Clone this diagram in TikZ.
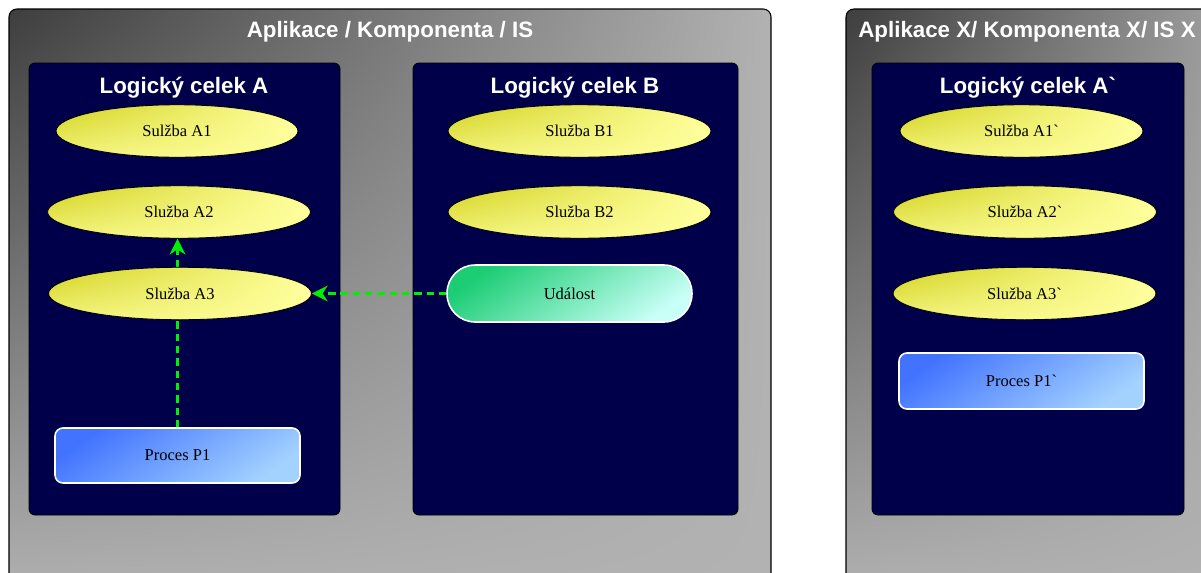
\documentclass[tikz,border=0pt]{standalone}
\usepackage{fontspec}
\setmainfont{Liberation Serif}[Ligatures=TeXOff]
\newfontfamily\nadpisfont{Liberation Sans}[Ligatures=TeXOff]
\usetikzlibrary{arrows.meta,
	backgrounds,
	shadings,
	shapes}
\pgfdeclarelayer{hrany}
\pgfsetlayers{background,hrany,main}

\definecolor{tmava}{HTML}{00004A}
\definecolor{seda1}{HTML}{3E3E3E}
\definecolor{seda2}{HTML}{A6A6A6}
\definecolor{seda3}{HTML}{B2B2B2}
\definecolor{zluta1}{HTML}{D2D21E}
\definecolor{zluta2}{HTML}{F3F37E}
\definecolor{zluta3}{HTML}{FFFF9E}
\definecolor{modra1}{HTML}{4273FF}
\definecolor{modra2}{HTML}{72A2FF}
\definecolor{modra3}{HTML}{A3D2FF}
\definecolor{zelena1}{HTML}{1CCD74}
\definecolor{zelena2}{HTML}{7FE8C6}
\definecolor{zelena3}{HTML}{C8FFF6}
\definecolor{sipkova}{HTML}{00F000}

\begin{document}
\begin{tikzpicture}[x=0.02cm,y=-0.02cm]
    \tikzstyle{aplikace}=[draw=black,line width=0.6pt,rounded corners=4.5pt,upper left=seda1,upper right=seda3,lower left=seda3,lower right=seda3]
    \tikzstyle{celek}=[fill=tmava,draw=black,line width=0.5pt,rounded corners=3.5pt]
    \tikzstyle{nadpis}=[text=white,font=\nadpisfont\bfseries\fontsize{12.7}{14}\selectfont]
    \tikzstyle{sluzba}=[ellipse,draw=black,line width=0.5pt,inner sep=0pt,minimum width=5.26cm,minimum height=1.05cm,upper left=zluta1,upper right=zluta3,lower left=zluta2,lower right=zluta3,font=\fontsize{9.4}{11}\selectfont]
    \tikzstyle{proces}=[rectangle,draw=white,line width=0.9pt,rounded corners=4.5pt,minimum width=4.9cm,minimum height=1.1cm,top color=modra1,middle color=modra2,bottom color=modra3,shading angle=35,font=\fontsize{9.4}{11}\selectfont]
    \tikzstyle{udalost}=[rectangle,draw=white,line width=0.9pt,rounded corners=16pt,minimum width=4.9cm,minimum height=1.14cm,top color=zelena1,middle color=zelena2,bottom color=zelena3,shading angle=35,font=\fontsize{9.4}{11}\selectfont]
    \tikzstyle{sipka}=[draw=sipkova,line width=1.7pt,dash pattern=on 4.2pt off 2.8pt,-{Stealth[length=9pt,width=9pt]}]
    \useasboundingbox (0,0) rectangle (1201,572);
    % ramecky
    \begin{pgfonlayer}{background}
    \draw[aplikace] (9,9) rectangle (771,600);
    \draw[aplikace] (846,9) rectangle (1300,600);
    \draw[celek] (29,63) rectangle (340,515);
    \draw[celek] (413,63) rectangle (738,515);
    \draw[celek] (872,63) rectangle (1184,515);
    \end{pgfonlayer}
    \node[nadpis] (t_apl) at (390,32) {Aplikace / Komponenta / IS};
    \node[nadpis] (t_aplx) at (1027,32) {Aplikace X/ Komponenta X/ IS X};
    \node[nadpis] (t_a) at (184,87.5) {Logický celek A};
    \node[nadpis] (t_b) at (575,87.5) {Logický celek B};
    \node[nadpis] (t_ax) at (1028,87.5) {Logický celek A`};
    % sluzby
    \node[sluzba,minimum width=4.84cm] (s_a1) at (177,131) {Sulžba A1};
    \node[sluzba] (s_a2) at (179,212) {Služba A2};
    \node[sluzba] (s_a3) at (180,293.5) {Služba A3};
    \node[sluzba] (s_b1) at (579.5,131) {Služba B1};
    \node[sluzba] (s_b2) at (579.5,212) {Služba B2};
    \node[sluzba,minimum width=4.86cm] (s_ax1) at (1021.5,131) {Sulžba A1`};
    \node[sluzba] (s_ax2) at (1025,212) {Služba A2`};
    \node[sluzba] (s_ax3) at (1024.5,293.5) {Služba A3`};
    \node[udalost] (u_b) at (569.5,293.5) {Událost};
    \node[proces] (p_1) at (177.5,455.5) {Proces P1};
    \node[proces,minimum height=1.12cm] (p_x1) at (1021.5,381) {Proces P1`};
    % vazby
    \begin{pgfonlayer}{hrany}
    \draw[sipka] (p_1.north) -- (p_1.north |- s_a2.south);
    \draw[sipka] (u_b.west) -- (s_a3.east);
    \end{pgfonlayer}
\end{tikzpicture}
\end{document}
